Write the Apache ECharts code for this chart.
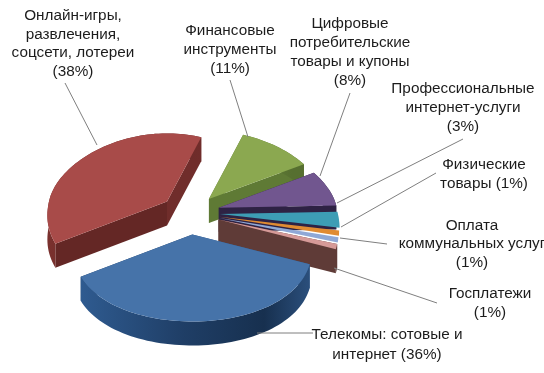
<!DOCTYPE html>
<html><head><meta charset="utf-8">
<style>html,body{margin:0;padding:0;background:#fff}#c{width:544px;height:373px}</style>
<script src="https://cdn.jsdelivr.net/npm/echarts@6/dist/echarts.min.js"></script>
</head><body><div id="c"></div>
<script>
const categories=['Телекомы: сотовые и интернет','Онлайн-игры, развлечения, соцсети, лотереи','Финансовые инструменты','Цифровые потребительские товары и купоны','Профессиональные интернет-услуги','Физические товары','Оплата коммунальных услуг','Госплатежи'];
const values=[36,38,11,8,3,1,1,1];
const topColors=['#4673A9','#A84B49','#8BA850','#71568F','#3D9DB5','#E08B32','#8FA8D6','#D69A98'];
const wallColors=[['#2F5B90','#1F3E66','#17304F','#2B4F7C'],['#7A312E','#642725','#6B2B29','#702D2B'],['#5F7A35','#5F7A35','#566F30','#566F30'],['#2E2244','#2E2244','#2E2244','#2E2244'],['#286F80','#286F80','#286F80','#286F80'],['#96591C','#96591C','#96591C','#96591C'],['#5E7299','#5E7299','#5E7299','#5E7299'],['#5F3B37','#5F3B37','#5F3B37','#5F3B37']];
const labels=[
 {lines:['Онлайн-игры,','развлечения,','соцсети, лотереи','(38%)'],x:73,y:[16,35,53,72]},
 {lines:['Финансовые','инструменты','(11%)'],x:230,y:[31,50,69]},
 {lines:['Цифровые','потребительские','товары и купоны','(8%)'],x:350,y:[24,43,62,81]},
 {lines:['Профессиональные','интернет-услуги','(3%)'],x:463,y:[89,108,127]},
 {lines:['Физические','товары (1%)'],x:484,y:[165,184]},
 {lines:['Оплата','коммунальных услуг','(1%)'],x:472,y:[226,244,263]},
 {lines:['Госплатежи','(1%)'],x:490,y:[294,313]},
 {lines:['Телекомы: сотовые и','интернет (36%)'],x:387,y:[335,355]}
];
const leaders=[[[65,83],[97,145]],[[230,80],[248,137]],[[350,93],[320,176]],[[463,139],[337,203]],[[436,173],[341,227]],[[340,238],[387,244]],[[334,268],[437,303]],[[257,333],[313,333]]];
const CX=190,CY=212.5,RX=118,KF=0.737,KB=0.576,PERSP_F=0.17,PERSP_B=0.12,DEPTH=24,EXPLODE=30,START=-70;
const noRimWall=[4,5,6];
const total=values.reduce((a,b)=>a+b,0);
const pt=(deg,r,ox,oy,flat)=>{const t=deg*Math.PI/180,c=Math.cos(t),p=flat?0:(c>0?PERSP_F:PERSP_B);return [ox-r*Math.sin(t)*(1+p*c),oy+r*c*(c>0?KF:KB)];};
let acc=START;
const spans=values.map(v=>{const s=acc;acc+=v/total*360;return [s,acc];});
function renderSlice(params,api){
  const i=api.value(0),[s,e]=spans[i],mid=(s+e)/2;
  const [ax,ay]=pt(mid,EXPLODE,CX,CY,true);
  const arc=[];const n=Math.max(4,Math.ceil((e-s)/2));
  for(let j=0;j<=n;j++)arc.push(pt(s+(e-s)*j/n,RX,ax,ay));
  const down=p=>[p[0],p[1]+DEPTH];
  const wc=wallColors[i];
  const grad=new echarts.graphic.LinearGradient(0,0,1,0,[{offset:0,color:wc[0]},{offset:.45,color:wc[1]},{offset:.8,color:wc[2]},{offset:1,color:wc[3]}]);
  const first=arc[0],last=arc[arc.length-1],A=[ax,ay];
  const kids=[];
  if(!noRimWall.includes(i)){
    kids.push({type:'polygon',shape:{points:[A,first,down(first),down(A)]},style:{fill:i===0?wc[0]:wc[1]}});
    kids.push({type:'polygon',shape:{points:[A,last,down(last),down(A)]},style:{fill:i===1?wc[3]:wc[1]}});
    kids.push({type:'polygon',shape:{points:arc.concat(arc.slice().reverse().map(down))},style:{fill:grad}});
  }
  kids.push({type:'polygon',shape:{points:[A].concat(arc)},style:{fill:topColors[i]}});
  return {type:'group',children:kids};
}
const drawOrder=[1,2,3,4,5,6,7,0];
const series=drawOrder.map(i=>({type:'custom',coordinateSystem:'none',silent:true,animation:false,z:2+drawOrder.indexOf(i),renderItem:renderSlice,data:[[i,values[i]]]}));
const graphics=[];
leaders.forEach(l=>graphics.push({type:'polyline',z:50,silent:true,shape:{points:l},style:{stroke:'#7f7f7f',lineWidth:1,fill:null}}));
labels.forEach(l=>l.lines.forEach((t,j)=>graphics.push({type:'text',z:60,silent:true,x:l.x,y:l.y[j],style:{text:t,fill:'#1c1c1c',font:'15.3px "Liberation Sans", Arial, sans-serif',align:'center',verticalAlign:'middle'}})));
const chart=echarts.init(document.getElementById('c'),null,{renderer:'canvas'});
chart.setOption({animation:false,backgroundColor:'#fff',series,graphic:graphics});
</script></body></html>
